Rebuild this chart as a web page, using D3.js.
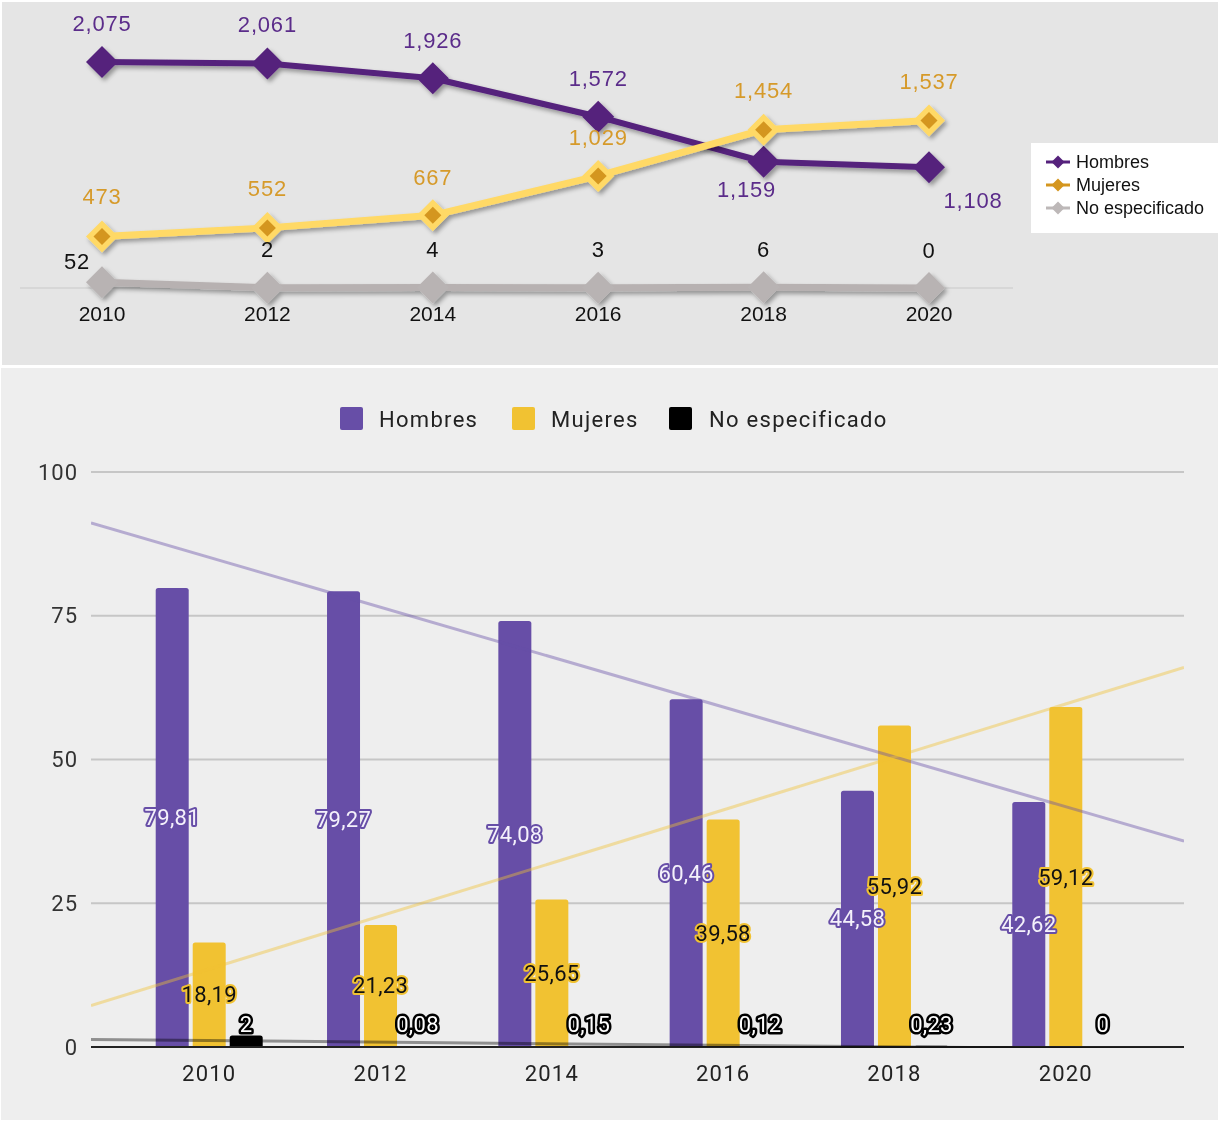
<!DOCTYPE html>
<html><head><meta charset="utf-8">
<script src="https://cdn.jsdelivr.net/npm/d3@7"></script>
<style>
html,body{margin:0;padding:0;background:#fff;}
svg{display:block;}
</style></head>
<body>
<svg id="c" width="1220" height="1122"></svg>
<script>
// ---------- DATA ----------
const years = ["2010","2012","2014","2016","2018","2020"];
const seriesNames = ["Hombres","Mujeres","No especificado"];
// absolute counts (top chart)
const hombresCount = [2075, 2061, 1926, 1572, 1159, 1108];
const mujeresCount = [473, 552, 667, 1029, 1454, 1537];
const noEspCount   = [52, 2, 4, 3, 6, 0];
// percentages (bottom chart)
const hombresPct = [79.81, 79.27, 74.08, 60.46, 44.58, 42.62];
const mujeresPct = [18.19, 21.23, 25.65, 39.58, 55.92, 59.12];
const noEspPct   = [2, 0.08, 0.15, 0.12, 0.23, 0];
const yTicksBottom = [0, 25, 50, 75, 100];

// ---------- SETUP ----------
const svg = d3.select("#c");
const defs = svg.append("defs");
const f = defs.append("filter").attr("id","sh").attr("x","-30%").attr("y","-30%").attr("width","160%").attr("height","160%");
f.append("feDropShadow").attr("dx",2.5).attr("dy",3).attr("stdDeviation",2).attr("flood-color","#000").attr("flood-opacity",0.35);
defs.append("clipPath").attr("id","plotclip").append("rect").attr("x",91).attr("y",472).attr("width",1093).attr("height",576);

const topFont = "'Liberation Sans', Arial, sans-serif";
const botFont = "Roboto, 'Noto Sans', sans-serif";

// panels
svg.append("rect").attr("x",2).attr("y",2).attr("width",1216).attr("height",363).attr("fill","#e5e5e5");
svg.append("rect").attr("x",1).attr("y",368).attr("width",1217).attr("height",752).attr("fill","#eeeeee");

// ---------- TOP CHART ----------
const xT = d3.scalePoint().domain(years).range([102, 929]);
const yT = d3.scaleLinear().domain([0, 2075]).range([288, 62]);
const topG = svg.append("g");

topG.append("line").attr("x1",20).attr("x2",1013).attr("y1",yT(0)).attr("y2",yT(0))
  .attr("stroke","#d2d2d2").attr("stroke-width",1.5);

const lineT = d3.line().x((d,i)=>xT(years[i])).y(d=>yT(d));
const diamond = r => `M0,${-r}L${r},0L0,${r}L${-r},0Z`;

const topSeries = [
  {vals: noEspCount, line:"#b7b1b1", w:7, mark:"#b8b3b3", inner:null},
  {vals: hombresCount, line:"#55217c", w:6, mark:"#55217c", inner:null},
  {vals: mujeresCount, line:"#ffd966", w:7, mark:"#ffd966", inner:"#d4961f"}
];
topSeries.forEach(s=>{
  const g = topG.append("g").attr("filter","url(#sh)");
  g.append("path").attr("d", lineT(s.vals)).attr("fill","none")
    .attr("stroke", s.line).attr("stroke-width", s.w).attr("stroke-linejoin","round");
  s.vals.forEach((v,i)=>{
    g.append("path").attr("d", diamond(16)).attr("transform",`translate(${xT(years[i])},${yT(v)})`).attr("fill", s.mark);
  });
  if (s.inner) s.vals.forEach((v,i)=>{
    topG.append("path").attr("d", diamond(8.5)).attr("transform",`translate(${xT(years[i])},${yT(v)})`).attr("fill", s.inner);
  });
});

// top labels
const fmtT = d3.format(",");
const hOff = [[0,-39],[0,-39],[0,-38],[0,-38],[-17,28],[44,33]];
const mOff = [[0,-40],[0,-39],[0,-38],[0,-38],[0,-39],[0,-39]];
const nOff = [[-25,-21],[0,-38],[0,-38],[0,-38],[0,-38],[0,-38]];
function topLabels(vals, offs, color){
  topG.append("g").selectAll("text").data(vals).join("text")
    .attr("x",(d,i)=>xT(years[i])+offs[i][0])
    .attr("y",(d,i)=>yT(d)+offs[i][1])
    .attr("text-anchor","middle").attr("dominant-baseline","central")
    .attr("font-family",topFont).attr("font-size",22).attr("letter-spacing",0.8)
    .attr("fill",color).text(d=>fmtT(d));
}
topLabels(hombresCount, hOff, "#5b2c8a");
topLabels(mujeresCount, mOff, "#d69a2a");
topLabels(noEspCount, nOff, "#111");

// x labels top
topG.append("g").selectAll("text").data(years).join("text")
  .attr("x",d=>xT(d)).attr("y",313).attr("text-anchor","middle").attr("dominant-baseline","central")
  .attr("font-family",topFont).attr("font-size",21).attr("fill","#111").text(d=>d);

// top legend
const lg = topG.append("g");
lg.append("rect").attr("x",1031).attr("y",143).attr("width",187).attr("height",90).attr("fill","#fff");
const legColors = ["#55217c","#d4961f","#bdb8b8"];
seriesNames.forEach((n,i)=>{
  const y = 162 + i*23;
  lg.append("line").attr("x1",1046).attr("x2",1070).attr("y1",y).attr("y2",y).attr("stroke",legColors[i]).attr("stroke-width",3);
  lg.append("path").attr("d",diamond(6.5)).attr("transform",`translate(1058,${y})`).attr("fill",legColors[i]);
  lg.append("text").attr("x",1076).attr("y",y).attr("dominant-baseline","central")
    .attr("font-family",topFont).attr("font-size",18).attr("fill","#111").text(n);
});

// ---------- BOTTOM CHART ----------
const xB = d3.scalePoint().domain(years).range([91, 1184]).padding(0.69);
const yB = d3.scaleLinear().domain([0, 100]).range([1047, 472]);
const botG = svg.append("g");

// grid
botG.append("g").selectAll("line").data(yTicksBottom.filter(t=>t>0)).join("line")
  .attr("x1",91).attr("x2",1184).attr("y1",d=>yB(d)).attr("y2",d=>yB(d))
  .attr("stroke","#c6c6c6").attr("stroke-width",1.8);
// y axis labels
botG.append("g").selectAll("text").data(yTicksBottom).join("text")
  .attr("x",78).attr("y",d=>yB(d)).attr("text-anchor","end").attr("dominant-baseline","central")
  .attr("font-family",botFont).attr("font-size",22).attr("letter-spacing",1).attr("fill","#333").text(d=>d);

// bars
const barColors = ["#674ea7","#f1c232","#000000"];
const pctSeries = [hombresPct, mujeresPct, noEspPct];
const bw = 33, bstep = 37;
pctSeries.forEach((vals,si)=>{
  botG.append("g").selectAll("path").data(vals).join("path")
    .attr("d",(d,i)=>{
      const x0 = xB(years[i]) + (si-1)*bstep - bw/2;
      const y0 = yB(d), y1 = yB(0);
      const h = y1 - y0;
      if (h <= 0) return "";
      const r = Math.min(2.5, h);
      return `M${x0},${y1}V${y0+r}Q${x0},${y0} ${x0+r},${y0}H${x0+bw-r}Q${x0+bw},${y0} ${x0+bw},${y0+r}V${y1}Z`;
    })
    .attr("fill", barColors[si]);
});

// baseline
botG.append("line").attr("x1",91).attr("x2",1184).attr("y1",yB(0)).attr("y2",yB(0)).attr("stroke","#222").attr("stroke-width",2);

// trend lines (linear regression of each series over category positions)
function regression(vals){
  const xs = years.map(y=>xB(y));
  const mx = d3.mean(xs), my = d3.mean(vals);
  let sxy=0, sxx=0;
  xs.forEach((x,i)=>{ sxy += (x-mx)*(vals[i]-my); sxx += (x-mx)*(x-mx); });
  const b = sxy/sxx, a = my - b*mx;
  return x => a + b*x;
}
const trendStyles = [
  {c:"#674ea7", o:0.42},
  {c:"#f1c232", o:0.42},
  {c:"#000000", o:0.4}
];
const trendG = botG.append("g").attr("clip-path","url(#plotclip)");
pctSeries.forEach((vals,si)=>{
  const fn = regression(vals);
  trendG.append("line").attr("x1",91).attr("x2",1184)
    .attr("y1",yB(fn(91))).attr("y2",yB(fn(1184)))
    .attr("stroke",trendStyles[si].c).attr("stroke-opacity",trendStyles[si].o).attr("stroke-width",3);
});

// x labels
botG.append("g").selectAll("text").data(years).join("text")
  .attr("x",d=>xB(d)).attr("y",1073).attr("text-anchor","middle").attr("dominant-baseline","central")
  .attr("font-family",botFont).attr("font-size",22).attr("letter-spacing",1.2).attr("fill","#222").text(d=>d);

// data labels
const fmtB = v => String(v).replace(".", ",");
const labStyles = [
  {fill:"#f4f1fb", stroke:"#674ea7", w:4},
  {fill:"#111", stroke:"#f1c232", w:4},
  {fill:"#fff", stroke:"#000", w:5}
];
pctSeries.forEach((vals,si)=>{
  botG.append("g").selectAll("text").data(vals).join("text")
    .attr("x",(d,i)=>xB(years[i]) + (si-1)*bstep)
    .attr("y",d=> si<2 ? (yB(d)+yB(0))/2 : 1024)
    .attr("text-anchor","middle").attr("dominant-baseline","central")
    .attr("font-family",botFont).attr("font-size",22).attr("letter-spacing",0.3)
    .attr("fill",labStyles[si].fill).attr("stroke",labStyles[si].stroke)
    .attr("stroke-width", labStyles[si].w).attr("stroke-linejoin","round").attr("paint-order","stroke")
    .text(d=>fmtB(d));
});

// bottom legend
const legX = [340, 512, 669];
const legTx = [379, 551, 709];
seriesNames.forEach((n,i)=>{
  botG.append("rect").attr("x",legX[i]).attr("y",407).attr("width",23).attr("height",23).attr("rx",2).attr("fill",barColors[i]);
  botG.append("text").attr("x",legTx[i]).attr("y",419).attr("dominant-baseline","central")
    .attr("font-family",botFont).attr("font-size",22).attr("letter-spacing",1.3).attr("fill","#222").text(n);
});
</script>
</body></html>
